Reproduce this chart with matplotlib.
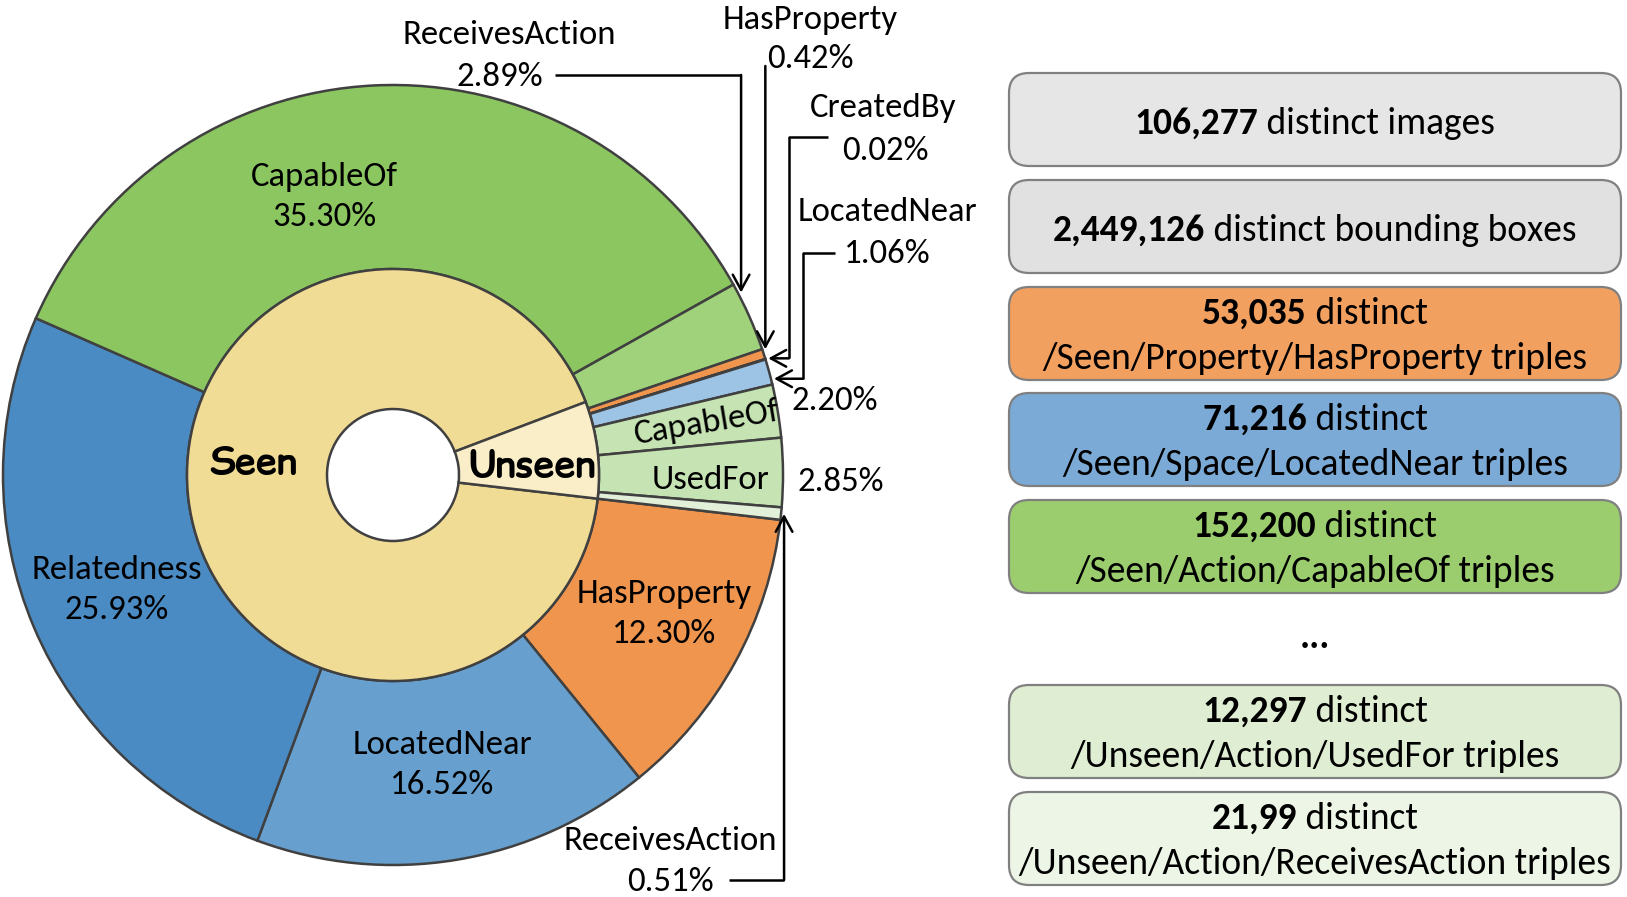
import matplotlib
matplotlib.use("Agg")
import matplotlib.pyplot as plt
import numpy as np
from matplotlib.patches import FancyBboxPatch, FancyArrowPatch

plt.rcParams['font.family'] = ['Carlito', 'Lato', 'DejaVu Sans']

W, H = 1627, 897

# ---- data -------------------------------------------------------------
# outer ring, clockwise from the bottom of the Unseen part
outer_labels = ["HasProperty", "LocatedNear", "Relatedness", "CapableOf", "ReceivesAction",
                "HasProperty", "CreatedBy", "LocatedNear",
                "CapableOf", "UsedFor", "ReceivesAction"]
outer_values = [12.30, 16.52, 25.93, 35.30, 2.89, 0.42, 0.02, 1.06, 2.20, 2.85, 0.51]
outer_colors = ["#F0954E", "#67A0CF", "#4A8BC3", "#8BC660", "#A0D27C",
                "#F0954E", "#F0954E", "#9DC3E5",
                "#C5E3B3", "#C5E3B3", "#E2F0D9"]

inner_labels = ["Seen", "Unseen"]
inner_values = [92.4, 7.6]
inner_colors = ["#F1DC95", "#FAEEC8"]

box_numbers = ["106,277", "2,449,126", "53,035", "71,216", "152,200", "12,297", "21,99"]
box_first = [" distinct images", " distinct bounding boxes", " distinct", " distinct",
             " distinct", " distinct", " distinct"]
box_second = ["", "", "/Seen/Property/HasProperty triples", "/Seen/Space/LocatedNear triples",
              "/Seen/Action/CapableOf triples", "/Unseen/Action/UsedFor triples",
              "/Unseen/Action/ReceivesAction triples"]
box_colors = ["#E6E6E6", "#E1E1E1", "#F2A060", "#7AAAD5", "#9BCD6E", "#DFEED3", "#EDF6E6"]

# ---- figure -------------------------------------------------------------
fig = plt.figure(figsize=(W / 100, H / 100), dpi=100)
ax = fig.add_axes([0, 0, 1, 1])

edge = "#404040"
cx, cy = 393, H - 475
R_out, R_in, R_hole = 390, 206, 66
start = -6.6

wo, _ = ax.pie(outer_values, radius=R_out, center=(cx, cy), startangle=start,
               counterclock=False, colors=outer_colors,
               wedgeprops=dict(width=R_out - R_in, edgecolor=edge, linewidth=1.8))
wi, _ = ax.pie(inner_values, radius=R_in, center=(cx, cy), startangle=start,
               counterclock=False, colors=inner_colors,
               wedgeprops=dict(width=R_in - R_hole, edgecolor=edge, linewidth=1.8))

ax.set_xlim(0, W)
ax.set_ylim(0, H)
ax.axis("off")

fs = 25


def txt(x, y, s, **kw):
    kw.setdefault("ha", "center")
    kw.setdefault("va", "center")
    kw.setdefault("fontsize", fs)
    return ax.text(x, H - y, s, **kw)


# big wedge labels (placed by hand in the original)
txt(324, 197, "CapableOf\n35.30%", linespacing=1.4)
txt(117, 590, "Relatedness\n25.93%", linespacing=1.4)
txt(442, 765, "LocatedNear\n16.52%", linespacing=1.4)
txt(664, 614, "HasProperty\n12.30%", linespacing=1.4)

# ring labels
comic = ['Comic Relief', 'Comic Neue', 'DejaVu Sans']
txt(253, 464, "Seen", fontsize=27, fontweight="bold", family=comic)
txt(532, 467, "Unseen", fontsize=27, fontweight="bold", family=comic)


def mid(w):
    return (w.theta1 + w.theta2) / 2


# labels of the unseen wedges, along their mid angle
for i, shift in ((8, 0.0), (9, -1.2)):
    a = np.deg2rad(mid(wo[i]) + shift)
    rot = mid(wo[i]) if i == 8 else 0
    ax.text(cx + 318 * np.cos(a), cy + 318 * np.sin(a), outer_labels[i],
            ha="center", va="center", fontsize=fs, rotation=rot, rotation_mode="anchor")
    ax.text(cx + 448 * np.cos(a), cy + 448 * np.sin(a), f"{outer_values[i]:.2f}%",
            ha="center", va="center", fontsize=fs)


def tip_of(i, frac):
    w = wo[i]
    a = np.deg2rad(w.theta1 + frac * (w.theta2 - w.theta1))
    return cx + (R_out + 3) * np.cos(a), cy + (R_out + 3) * np.sin(a)


def callout(pts):
    xs = [p[0] for p in pts]
    ys = [p[1] for p in pts]
    ax.plot(xs[:-1], ys[:-1], color="black", lw=1.8, solid_capstyle="butt")
    ax.add_patch(FancyArrowPatch(pts[-2], pts[-1], arrowstyle="->,head_length=0.55,head_width=0.3",
                                 mutation_scale=20, color="black", lw=1.8, shrinkA=0, shrinkB=0))


# ReceivesAction 2.89%
txt(509, 35, "ReceivesAction")
txt(500, 77, "2.89%")
tx, ty = tip_of(4, 0.85)
callout([(555, H - 75), (tx, H - 75), (tx, ty)])

# HasProperty 0.42%
txt(810, 20, "HasProperty")
txt(810, 59, "0.42%")
tx, ty = tip_of(5, 0.9)
callout([(tx, H - 66), (tx, H - 66), (tx, ty)])

# CreatedBy 0.02%
txt(883, 108, "CreatedBy")
txt(885, 151, "0.02%")
tx, ty = tip_of(6, 0.5)
callout([(828, H - 137), (789, H - 137), (789, ty), (tx, ty)])

# LocatedNear 1.06%
txt(887, 212, "LocatedNear")
txt(887, 254, "1.06%")
tx, ty = tip_of(7, 0.2)
callout([(835, H - 253), (803, H - 253), (803, ty), (tx, ty)])

# ReceivesAction 0.51%
txt(670, 841, "ReceivesAction")
txt(670, 882, "0.51%")
tx, ty = tip_of(10, 0.5)
callout([(729, H - 880), (tx, H - 880), (tx, ty)])

# ---- boxes on the right -----------------------------------------------
box_tops = [73, 180, 287, 393, 500, 685, 792]
bx0, bx1, bh = 1009, 1621, 93
bfs = 27
renderer = fig.canvas.get_renderer()
for top, num, first, second, col in zip(box_tops, box_numbers, box_first, box_second, box_colors):
    ax.add_patch(FancyBboxPatch((bx0, H - top - bh), bx1 - bx0, bh,
                                boxstyle="round,pad=0,rounding_size=20",
                                fc=col, ec="#808080", lw=1.6))
    xm = (bx0 + bx1) / 2
    ym = top + bh / 2
    y1 = ym + 4 if not second else ym - 20
    t1 = txt(xm, y1, num, fontsize=bfs, fontweight="bold", ha="left")
    t2 = txt(xm, y1, first, fontsize=bfs, ha="left")
    w1 = t1.get_window_extent(renderer).width
    w2 = t2.get_window_extent(renderer).width
    t1.set_x(xm - (w1 + w2) / 2)
    t2.set_x(xm - (w1 + w2) / 2 + w1)
    if second:
        txt(xm, ym + 25, second, fontsize=bfs)

txt((bx0 + bx1) / 2, 637, "...", fontsize=bfs, fontweight="bold")

fig.savefig("out.png", dpi=100)
